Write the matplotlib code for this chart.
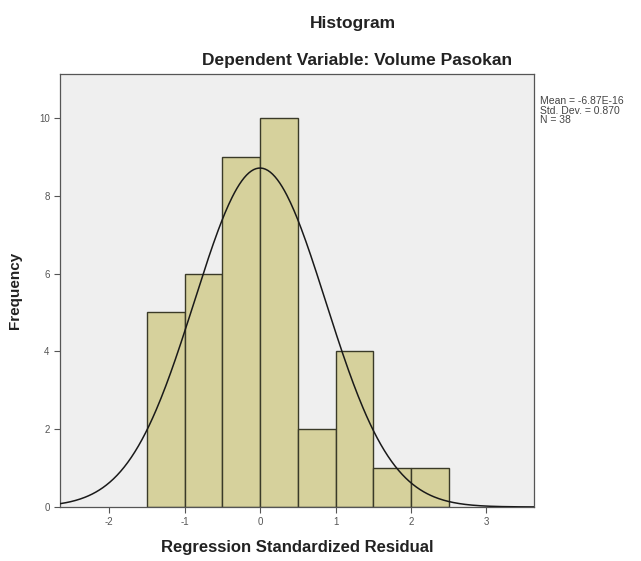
import numpy as np
import matplotlib
matplotlib.use("Agg")
import matplotlib.pyplot as plt

plt.rcParams['font.family'] = ['Liberation Sans', 'DejaVu Sans']
plt.rcParams['axes.unicode_minus'] = False

# histogram bins (regression standardized residual) and counts
bin_edges = [-1.5, -1.0, -0.5, 0.0, 0.5, 1.0, 1.5, 2.0, 2.5]
counts = [5, 6, 9, 10, 2, 4, 1, 1]
mean = -6.87e-16
std_dev = 0.870
n = 38

x_ticks = [-2, -1, 0, 1, 2, 3]
y_ticks = [0, 2, 4, 6, 8, 10]

fig = plt.figure(figsize=(6.41, 5.61), dpi=100)
ax = fig.add_axes([0.0936, 0.0963, 0.7395, 0.7718])
ax.set_facecolor('#efefef')

widths = np.diff(bin_edges)
ax.bar(bin_edges[:-1], counts, width=widths, align='edge',
       color='#d6d19c', edgecolor='#3a3a28', linewidth=1.0, zorder=2)

# normal curve scaled to counts
xs = np.linspace(-2.65, 3.63, 400)
bw = widths[0]
ys = n * bw / (std_dev * np.sqrt(2 * np.pi)) * np.exp(-0.5 * ((xs - mean) / std_dev) ** 2)
ax.plot(xs, ys, color='#1a1a1a', linewidth=1.1, zorder=3)

ax.set_xlim(-2.65, 3.63)
ax.set_ylim(0, 11.13)
ax.set_xticks(x_ticks)
ax.set_yticks(y_ticks)
ax.tick_params(labelsize=7, colors='#555555', length=4, width=0.8)
for sp in ax.spines.values():
    sp.set_color('#555555')
    sp.set_linewidth(0.9)

ax.set_xlabel("Regression Standardized Residual", fontsize=12, fontweight='bold',
              color='#222222', labelpad=9)
ax.set_ylabel("Frequency", fontsize=11, fontweight='bold', color='#222222', labelpad=12)

fig.text(0.551, 0.958, "Histogram", ha='center', va='center', fontsize=12.5,
         fontweight='bold', color='#222222')
fig.text(0.557, 0.893, "Dependent Variable: Volume Pasokan", ha='center', va='center',
         fontsize=12.5, fontweight='bold', color='#222222')

fig.text(0.842, 0.828, "Mean = -6.87E-16\nStd. Dev. = 0.870\nN = 38",
         ha='left', va='top', fontsize=7.5, color='#444444', linespacing=0.9)

fig.savefig("out.png", dpi=100)
